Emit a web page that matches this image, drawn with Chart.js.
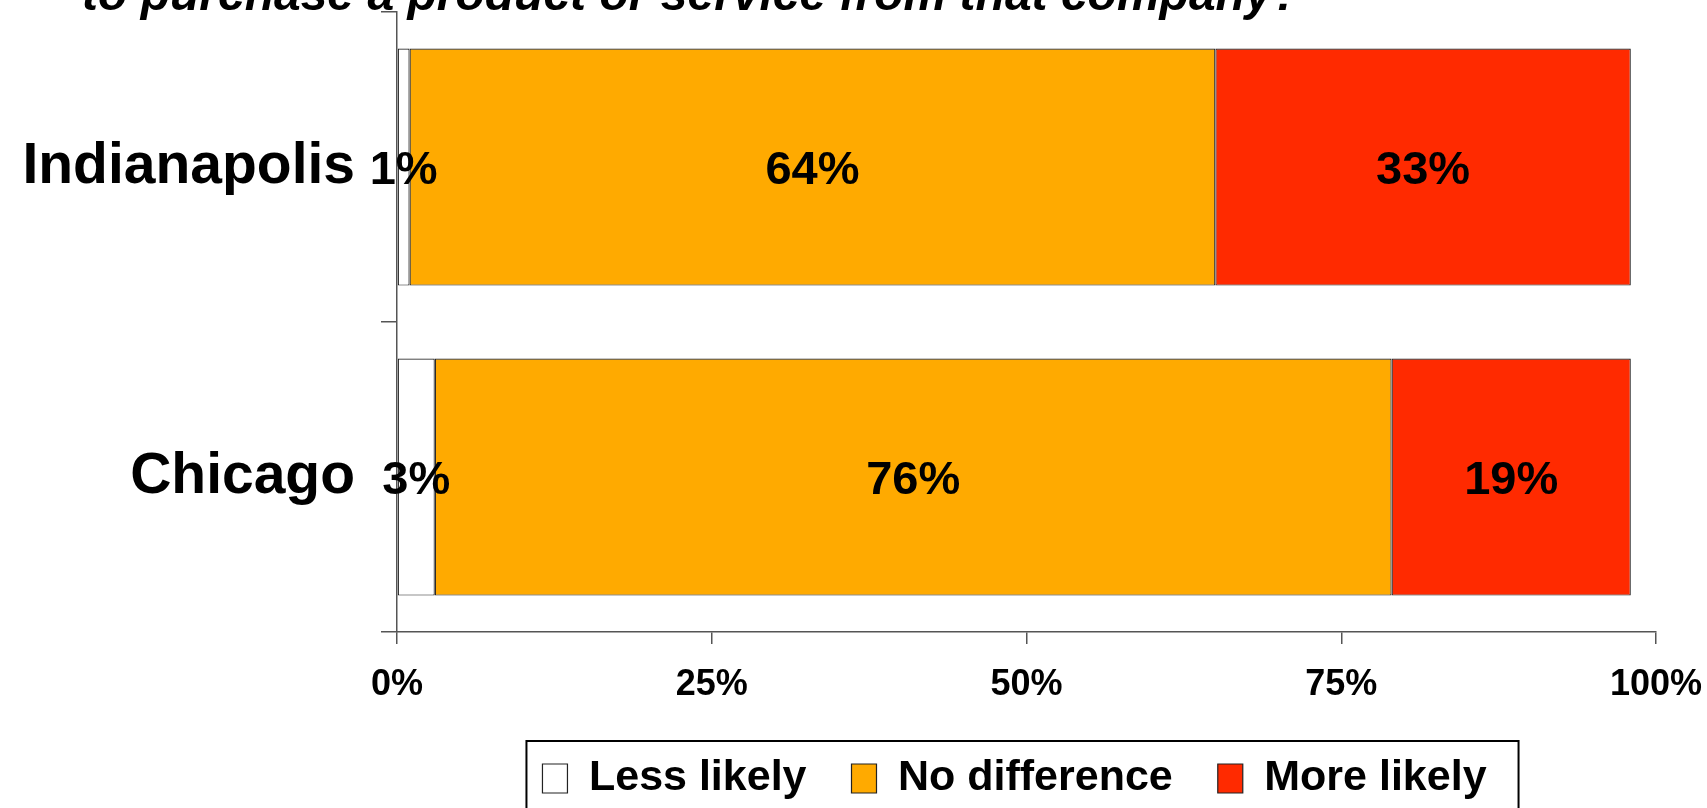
<!DOCTYPE html>
<html>
<head>
<meta charset="utf-8">
<script src="https://cdn.jsdelivr.net/npm/chart.js@4.4.1/dist/chart.umd.min.js"></script>
<style>
  body { margin: 0; overflow: hidden; background: #fff; }
  #wrap { width: 1707px; height: 810px; position: relative; }
</style>
</head>
<body>
<div id="wrap"><canvas id="likelybar"></canvas></div>
<script>
const cities = ['Indianapolis', 'Chicago'];
const lessLikely = [1, 3];
const noDifference = [64, 76];
const moreLikely = [33, 19];
const xTicks = [0, 25, 50, 75, 100];
const subtitle = 'to purchase a product or service from that company?';

const FONT = '"Liberation Sans", Arial, sans-serif';

// partial heading line above the plot
const headingLine = {
    id: 'headingLine',
    afterDraw(chart) {
        const ctx = chart.ctx;
        ctx.save();
        ctx.font = 'italic bold 48px ' + FONT;
        ctx.fillStyle = '#000';
        ctx.textAlign = 'left';
        ctx.textBaseline = 'alphabetic';
        ctx.fillText(subtitle, 82, 10);
        ctx.restore();
    }
};

// percentage written in the middle of every segment
const segmentLabels = {
    id: 'segmentLabels',
    afterDatasetsDraw(chart) {
        const ctx = chart.ctx;
        ctx.save();
        ctx.font = 'bold 47px ' + FONT;
        ctx.fillStyle = '#000';
        ctx.textAlign = 'center';
        ctx.textBaseline = 'middle';
        chart.data.datasets.forEach((ds, i) => {
            chart.getDatasetMeta(i).data.forEach((bar, j) => {
                const p = bar.getCenterPoint();
                ctx.fillText(ds.data[j] + '%', p.x, p.y + 4);
            });
        });
        ctx.restore();
    }
};

// legend sits a little left of the plot centre, framed, running off the bottom edge
const legendFrame = {
    id: 'legendFrame',
    afterLayout(chart) {
        chart.legend.left -= 12;
        chart.legend.right -= 12;
    },
    afterDraw(chart) {
        const boxes = chart.legend.legendHitBoxes;
        if (!boxes || !boxes.length) return;
        const first = boxes[0];
        const last = boxes[boxes.length - 1];
        const ctx = chart.ctx;
        ctx.save();
        ctx.strokeStyle = '#000';
        ctx.lineWidth = 2;
        const left = first.left - 16;
        const right = last.left + last.width + 32;
        const top = first.top - 16;
        ctx.strokeRect(left, top, right - left, 200);
        ctx.restore();
    }
};

const ctx = document.getElementById('likelybar');

const data = {
    labels: cities,
    datasets: [
        {
            label: 'Less likely',
            data: lessLikely,
            backgroundColor: '#ffffff',
        },
        {
            label: 'No difference',
            data: noDifference,
            backgroundColor: '#ffaa00',
        },
        {
            label: 'More likely',
            data: moreLikely,
            backgroundColor: '#ff2a00',
        },
    ]
};

data.datasets.forEach(ds => {
    ds.borderColor = '#222222';
    ds.borderWidth = 1.2;
    ds.borderSkipped = false;
    ds.categoryPercentage = 1;
    ds.barPercentage = 0.765;
});

const likelybar = new Chart(ctx, {
    type: 'bar',
    data: data,
    plugins: [headingLine, segmentLabels, legendFrame],
    options: {
        indexAxis: 'y',
        responsive: true,
        maintainAspectRatio: false,
        animation: false,
        layout: {
            padding: { top: 12, right: 51, left: 0, bottom: 0 }
        },
        plugins: {
            title: { display: false },
            tooltip: { enabled: false },
            legend: {
                position: 'bottom',
                fullSize: false,
                labels: {
                    color: '#000',
                    font: { family: FONT, size: 43, weight: 'bold' },
                    boxWidth: 25,
                    boxHeight: 29,
                    padding: 45,
                }
            }
        },
        scales: {
            x: {
                stacked: true,
                min: 0,
                max: 100,
                afterBuildTicks: function(scale) {
                    scale.ticks = xTicks.map(v => ({ value: v }));
                },
                afterFit: function(scale) {
                    scale.height = 80;
                    scale.paddingLeft = 0;
                    scale.paddingRight = 0;
                },
                ticks: {
                    color: '#000',
                    font: { family: FONT, size: 36, weight: 'bold' },
                    padding: 19,
                    maxRotation: 0,
                    callback: function(value) {
                        return value + '%';
                    }
                },
                grid: {
                    drawOnChartArea: false,
                    drawTicks: true,
                    tickLength: 12,
                    color: '#555555',
                    lineWidth: 1.5,
                },
                border: { display: true, color: '#555555', width: 1.5 }
            },
            y: {
                stacked: true,
                afterFit: function(scale) {
                    // fixed axis width, and no extra room above/below the bands
                    scale.width = 397;
                    scale.paddingTop = 0;
                    scale.paddingBottom = 0;
                },
                ticks: {
                    color: '#000',
                    font: { family: FONT, size: 57, weight: 'bold' },
                    padding: 26,
                },
                grid: {
                    offset: true,
                    drawOnChartArea: false,
                    drawTicks: true,
                    tickLength: 16,
                    color: '#555555',
                    lineWidth: 1.5,
                },
                border: { display: true, color: '#555555', width: 1.5 }
            }
        }
    }
});
</script>
</body>
</html>
